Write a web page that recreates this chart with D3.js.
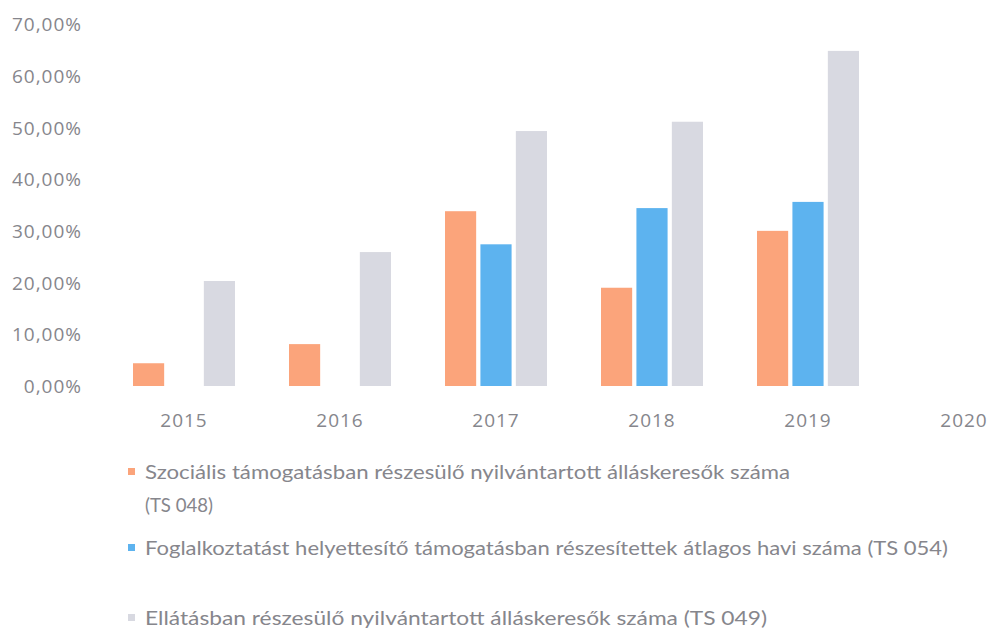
<!DOCTYPE html>
<html>
<head>
<meta charset="utf-8">
<script src="https://cdn.jsdelivr.net/npm/d3@7"></script>
<style>
  body { margin: 0; background: #fff; }
  svg { display: block; }
  text { fill: #86868c; }
</style>
</head>
<body>
<svg id="chart" width="995" height="630"></svg>
<script>
const years = ['2015', '2016', '2017', '2018', '2019', '2020'];
const seriesNames = [
  ['Szociális támogatásban részesülő nyilvántartott álláskeresők száma', '(TS 048)'],
  ['Foglalkoztatást helyettesítő támogatásban részesítettek átlagos havi száma (TS 054)'],
  ['Ellátásban részesülő nyilvántartott álláskeresők száma (TS 049)']
];
const socialis = [4.4, 8.1, 33.8, 19.0, 30.0, null];
const foglalkoztatas = [null, null, 27.4, 34.4, 35.6, null];
const ellatas = [20.3, 25.9, 49.3, 51.1, 64.8, null];
const yTicks = [0, 10, 20, 30, 40, 50, 60, 70];
const colors = ['#fba47b', '#5db3ef', '#d8d9e1'];
// widths of the legend lines as they stand in the picture
const legendWidths = [[645, 68], [803], [622]];

const series = [socialis, foglalkoztatas, ellatas];

const svg = d3.select('#chart');

const x = d3.scaleBand().domain(years).range([106, 1042]);
const y = d3.scaleLinear().domain([0, 70]).range([386, 24]);
const xInner = d3.scaleBand().domain([0, 1, 2]).range([0, 102]).paddingInner(0.12);

const fmt = d => d3.format('.2f')(d).replace('.', ',') + '%';

const yAxis = d3.axisLeft(y).tickValues(yTicks).tickFormat(fmt).tickSize(0).tickPadding(0);
svg.append('g')
  .attr('transform', 'translate(82,0)')
  .call(yAxis)
  .call(g => g.select('.domain').remove())
  .selectAll('text')
  .attr('fill', '#86868c')
  .style('font-family', 'Open Sans')
  .style('font-size', '19px')
  .style('letter-spacing', '1px')
  .attr('dy', '0.35em');

const xAxis = d3.axisBottom(x).tickSize(0).tickPadding(0);
svg.append('g')
  .attr('transform', 'translate(0,420)')
  .call(xAxis)
  .call(g => g.select('.domain').remove())
  .selectAll('text')
  .attr('fill', '#86868c')
  .style('font-family', 'Open Sans')
  .style('font-size', '19px')
  .style('letter-spacing', '1px')
  .attr('dy', '0.35em');

const groups = svg.append('g').selectAll('g')
  .data(years)
  .join('g')
  .attr('transform', d => `translate(${x(d) + x.bandwidth() / 2 - 51},0)`);

groups.selectAll('rect')
  .data((d, i) => series.map((s, k) => ({ k, v: s[i] })).filter(e => e.v != null))
  .join('rect')
  .attr('x', d => xInner(d.k))
  .attr('width', xInner.bandwidth())
  .attr('y', d => y(d.v))
  .attr('height', d => y(0) - y(d.v))
  .attr('fill', d => colors[d.k]);

// legend
const legendY = [472, 548, 618];
const legend = svg.append('g')
  .style('font-family', 'Lato')
  .style('font-size', '19px');

seriesNames.forEach((lines, i) => {
  legend.append('rect')
    .attr('x', 128).attr('y', legendY[i] - 4)
    .attr('width', 7).attr('height', 7)
    .attr('fill', colors[i]);
  lines.forEach((t, j) => {
    legend.append('text')
      .attr('x', 145)
      .attr('y', legendY[i] + j * 33)
      .attr('dy', '0.35em')
      .attr('textLength', legendWidths[i][j])
      .attr('lengthAdjust', 'spacingAndGlyphs')
      .text(t);
  });
});
</script>
</body>
</html>
